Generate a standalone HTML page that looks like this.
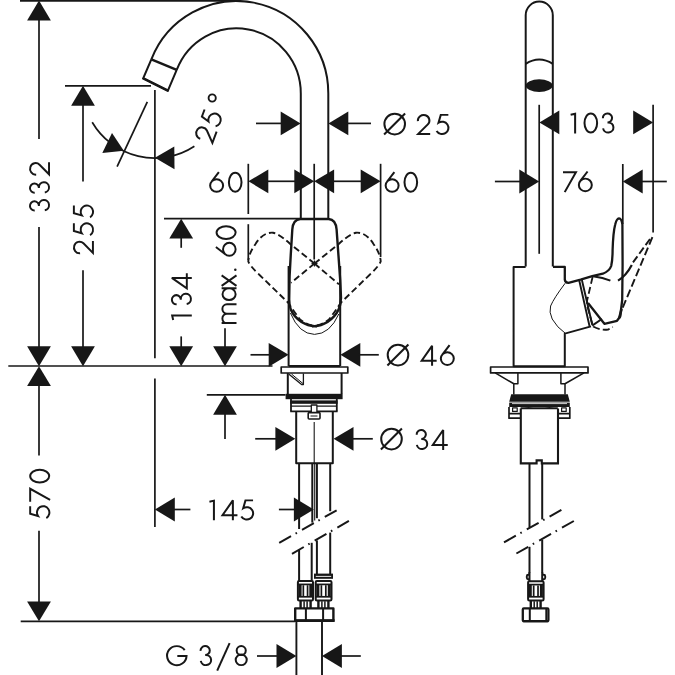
<!DOCTYPE html>
<html><head><meta charset="utf-8"><title>Dimension drawing</title>
<style>
html,body{margin:0;padding:0;background:#fff;font-family:"Liberation Sans",sans-serif;}
svg{display:block}
</style></head>
<body>
<svg width="675" height="675" viewBox="0 0 675 675" fill="none" stroke="#171717" stroke-linecap="butt" stroke-linejoin="round">
<rect x="0" y="0" width="675" height="675" fill="#fff" stroke="none"/>
<path d="M20,0.9 L238,0.9" stroke-width="1.8" />
<polygon points="39.0,0.6 27.1,20.5 50.9,20.5" fill="#171717" stroke="none"/>
<path d="M39.0,19 L39.0,139.0" stroke-width="1.7" />
<path d="M39.0,227 L39.0,348" stroke-width="1.7" />
<polygon points="39.0,366.2 27.1,346.3 50.9,346.3" fill="#171717" stroke="none"/>
<path d="M6,27 A21.5,21.5 0 1 1 27.5,47.2 L31,47.2 A24.3,24.3 0 1 1 7,75.5" transform="translate(49.9,211.8) rotate(-90) scale(0.214,0.208) translate(0,-100)" stroke-width="9.4" stroke-linejoin="miter" stroke-miterlimit="3"/>
<path d="M6,27 A21.5,21.5 0 1 1 27.5,47.2 L31,47.2 A24.3,24.3 0 1 1 7,75.5" transform="translate(49.9,194.0) rotate(-90) scale(0.214,0.208) translate(0,-100)" stroke-width="9.4" stroke-linejoin="miter" stroke-miterlimit="3"/>
<path d="M5.5,34 A27,27 0 1 1 52,50.2 L7,95.8 H63" transform="translate(49.9,175.8) rotate(-90) scale(0.214,0.208) translate(0,-100)" stroke-width="9.4" stroke-linejoin="miter" stroke-miterlimit="3"/>
<polygon points="39.0,366.2 27.1,386.1 50.9,386.1" fill="#171717" stroke="none"/>
<path d="M39.0,384 L39.0,455.6" stroke-width="1.7" />
<path d="M39.0,530.7 L39.0,603" stroke-width="1.7" />
<polygon points="39.0,621.3 27.1,601.4 50.9,601.4" fill="#171717" stroke="none"/>
<path d="M61,4.2 H25.5 L15,42 A29.8,29.8 0 1 1 6,82" transform="translate(50.1,519.3) rotate(-90) scale(0.214,0.208) translate(0,-100)" stroke-width="9.4" stroke-linejoin="miter" stroke-miterlimit="3"/>
<path d="M0,4.2 H60.5 L8,100" transform="translate(50.1,501.7) rotate(-90) scale(0.214,0.208) translate(0,-100)" stroke-width="9.4" stroke-linejoin="miter" stroke-miterlimit="3"/>
<path d="M4.2,50 a29.5,45.8 0 1 0 59,0 a29.5,45.8 0 1 0 -59,0 Z" transform="translate(50.1,483.3) rotate(-90) scale(0.214,0.208) translate(0,-100)" stroke-width="9.4" stroke-linejoin="miter" stroke-miterlimit="3"/>
<path d="M8.3,366.0 L272.5,366.0" stroke-width="1.7" />
<path d="M20.7,621.3 L295,621.3" stroke-width="1.7" />
<path d="M65,85.8 L151,85.8" stroke-width="1.7" />
<polygon points="83.0,85.8 71.1,105.7 94.9,105.7" fill="#171717" stroke="none"/>
<path d="M83,104 L83,181.4" stroke-width="1.7" />
<path d="M83,270.3 L83,348" stroke-width="1.7" />
<polygon points="83.0,366.2 71.1,346.3 94.9,346.3" fill="#171717" stroke="none"/>
<path d="M5.5,34 A27,27 0 1 1 52,50.2 L7,95.8 H63" transform="translate(93.8,254.4) rotate(-90) scale(0.214,0.208) translate(0,-100)" stroke-width="9.4" stroke-linejoin="miter" stroke-miterlimit="3"/>
<path d="M61,4.2 H25.5 L15,42 A29.8,29.8 0 1 1 6,82" transform="translate(93.8,236.4) rotate(-90) scale(0.214,0.208) translate(0,-100)" stroke-width="9.4" stroke-linejoin="miter" stroke-miterlimit="3"/>
<path d="M61,4.2 H25.5 L15,42 A29.8,29.8 0 1 1 6,82" transform="translate(93.8,218.6) rotate(-90) scale(0.214,0.208) translate(0,-100)" stroke-width="9.4" stroke-linejoin="miter" stroke-miterlimit="3"/>
<path d="M154.9,90 L154.9,358.3" stroke-width="1.7" />
<path d="M154.9,378.4 L154.9,527" stroke-width="1.7" />
<path d="M164,218.7 L300.5,218.7" stroke-width="1.7" />
<polygon points="181.2,218.7 169.3,238.6 193.1,238.6" fill="#171717" stroke="none"/>
<path d="M181.2,237 L181.2,247.8" stroke-width="1.7" />
<path d="M181.2,336.4 L181.2,348" stroke-width="1.7" />
<polygon points="181.2,366.2 169.3,346.3 193.1,346.3" fill="#171717" stroke="none"/>
<path d="M2,10.5 L23,5.5 V100" transform="translate(191.8,320.5) rotate(-90) scale(0.214,0.208) translate(0,-100)" stroke-width="9.4" stroke-linejoin="miter" stroke-miterlimit="3"/>
<path d="M6,27 A21.5,21.5 0 1 1 27.5,47.2 L31,47.2 A24.3,24.3 0 1 1 7,75.5" transform="translate(191.8,305.6) rotate(-90) scale(0.214,0.208) translate(0,-100)" stroke-width="9.4" stroke-linejoin="miter" stroke-miterlimit="3"/>
<path d="M53.6,100 V4 L5,76 H75" transform="translate(191.8,289.4) rotate(-90) scale(0.214,0.208) translate(0,-100)" stroke-width="9.4" stroke-linejoin="miter" stroke-miterlimit="3"/>
<path d="M225,328.2 L225,348" stroke-width="1.7" />
<polygon points="225.0,366.2 213.1,346.3 236.9,346.3" fill="#171717" stroke="none"/>
<path d="M4.2,100 V28.5 M4.2,54 A21.9,21.9 0 0 1 48,54 V100 M48,54 A21.9,21.9 0 0 1 91.8,54 V100" transform="translate(236.5,324.0) rotate(-90) scale(0.214,0.208) translate(0,-100)" stroke-width="9.4" stroke-linejoin="miter" stroke-miterlimit="3"/>
<path d="M59.2,28.5 V100 M4.2,64.3 a27.5,31.5 0 1 0 55,0 a27.5,31.5 0 1 0 -55,0 Z" transform="translate(236.5,301.0) rotate(-90) scale(0.214,0.208) translate(0,-100)" stroke-width="9.4" stroke-linejoin="miter" stroke-miterlimit="3"/>
<path d="M3,28.5 L52,100 M52,28.5 L3,100" transform="translate(236.5,286.5) rotate(-90) scale(0.214,0.208) translate(0,-100)" stroke-width="9.4" stroke-linejoin="miter" stroke-miterlimit="3"/>
<path d="M44.7,1 L10,47.3 M3.9,65.5 a30.3,30.3 0 1 0 60.6,0 a30.3,30.3 0 1 0 -60.6,0 Z" transform="translate(236.5,256.6) rotate(-90) scale(0.214,0.208) translate(0,-100)" stroke-width="9.4" stroke-linejoin="miter" stroke-miterlimit="3"/>
<path d="M4.2,50 a29.5,45.8 0 1 0 59,0 a29.5,45.8 0 1 0 -59,0 Z" transform="translate(236.5,239.8) rotate(-90) scale(0.214,0.208) translate(0,-100)" stroke-width="9.4" stroke-linejoin="miter" stroke-miterlimit="3"/>
<circle cx="235.3" cy="269.8" r="1.25" fill="#171717" stroke="none"/>
<path d="M206.8,394.8 L285.5,394.8" stroke-width="1.7" />
<polygon points="225.0,394.8 213.1,414.7 236.9,414.7" fill="#171717" stroke="none"/>
<path d="M225,413 L225,438.9" stroke-width="1.7" />
<polygon points="154.9,509.5 174.8,497.6 174.8,521.4" fill="#171717" stroke="none"/>
<path d="M173,509.5 L190.4,509.5" stroke-width="1.7" />
<path d="M278.9,509.5 L296,509.5" stroke-width="1.7" />
<polygon points="313.8,509.5 293.9,497.6 293.9,521.4" fill="#171717" stroke="none"/>
<path d="M2,10.5 L23,5.5 V100" transform="translate(209.0,520.3) scale(0.214,0.208) translate(0,-100)" stroke-width="9.4" stroke-linejoin="miter" stroke-miterlimit="3"/>
<path d="M53.6,100 V4 L5,76 H75" transform="translate(221.4,520.3) scale(0.214,0.208) translate(0,-100)" stroke-width="9.4" stroke-linejoin="miter" stroke-miterlimit="3"/>
<path d="M61,4.2 H25.5 L15,42 A29.8,29.8 0 1 1 6,82" transform="translate(240.0,520.3) scale(0.214,0.208) translate(0,-100)" stroke-width="9.4" stroke-linejoin="miter" stroke-miterlimit="3"/>
<path d="M256,123.4 L283,123.4" stroke-width="1.7" />
<polygon points="300.6,123.4 280.7,111.5 280.7,135.3" fill="#171717" stroke="none"/>
<polygon points="328.4,123.4 348.3,111.5 348.3,135.3" fill="#171717" stroke="none"/>
<path d="M346,123.4 L371,123.4" stroke-width="1.7" />
<circle cx="394.7" cy="124.1" r="10.3" stroke-width="2.0"/>
<path d="M384.09999999999997,134.5 L405.09999999999997,113.5" stroke-width="2.0" />
<path d="M5.5,34 A27,27 0 1 1 52,50.2 L7,95.8 H63" transform="translate(416.7,134.8) scale(0.214,0.208) translate(0,-100)" stroke-width="9.4" stroke-linejoin="miter" stroke-miterlimit="3"/>
<path d="M61,4.2 H25.5 L15,42 A29.8,29.8 0 1 1 6,82" transform="translate(435.3,134.8) scale(0.214,0.208) translate(0,-100)" stroke-width="9.4" stroke-linejoin="miter" stroke-miterlimit="3"/>
<path d="M248.3,163.8 L248.3,214" stroke-width="1.7" />
<path d="M248.3,224.2 L248.3,260" stroke-width="1.7" />
<path d="M314.2,163.8 L314.2,259.5" stroke-width="1.7" />
<path d="M380.6,163.8 L380.6,257" stroke-width="1.7" />
<polygon points="248.4,181.3 268.3,169.4 268.3,193.2" fill="#171717" stroke="none"/>
<path d="M266,181.3 L296,181.3" stroke-width="1.7" />
<polygon points="314.2,181.3 294.3,169.4 294.3,193.2" fill="#171717" stroke="none"/>
<polygon points="314.2,181.3 334.1,169.4 334.1,193.2" fill="#171717" stroke="none"/>
<path d="M332,181.3 L362,181.3" stroke-width="1.7" />
<polygon points="380.6,181.3 360.7,169.4 360.7,193.2" fill="#171717" stroke="none"/>
<path d="M44.7,1 L10,47.3 M3.9,65.5 a30.3,30.3 0 1 0 60.6,0 a30.3,30.3 0 1 0 -60.6,0 Z" transform="translate(209.3,192.7) scale(0.214,0.208) translate(0,-100)" stroke-width="9.4" stroke-linejoin="miter" stroke-miterlimit="3"/>
<path d="M4.2,50 a29.5,45.8 0 1 0 59,0 a29.5,45.8 0 1 0 -59,0 Z" transform="translate(228.0,192.7) scale(0.214,0.208) translate(0,-100)" stroke-width="9.4" stroke-linejoin="miter" stroke-miterlimit="3"/>
<path d="M44.7,1 L10,47.3 M3.9,65.5 a30.3,30.3 0 1 0 60.6,0 a30.3,30.3 0 1 0 -60.6,0 Z" transform="translate(384.8,192.7) scale(0.214,0.208) translate(0,-100)" stroke-width="9.4" stroke-linejoin="miter" stroke-miterlimit="3"/>
<path d="M4.2,50 a29.5,45.8 0 1 0 59,0 a29.5,45.8 0 1 0 -59,0 Z" transform="translate(403.6,192.7) scale(0.214,0.208) translate(0,-100)" stroke-width="9.4" stroke-linejoin="miter" stroke-miterlimit="3"/>
<path d="M250.5,354.8 L271,354.8" stroke-width="1.7" />
<polygon points="288.6,354.8 268.7,342.9 268.7,366.7" fill="#171717" stroke="none"/>
<polygon points="340.4,354.8 360.3,342.9 360.3,366.7" fill="#171717" stroke="none"/>
<path d="M358,354.8 L378.8,354.8" stroke-width="1.7" />
<circle cx="398" cy="355.1" r="10.3" stroke-width="2.0"/>
<path d="M387.4,365.5 L408.4,344.5" stroke-width="2.0" />
<path d="M53.6,100 V4 L5,76 H75" transform="translate(420.6,365.8) scale(0.214,0.208) translate(0,-100)" stroke-width="9.4" stroke-linejoin="miter" stroke-miterlimit="3"/>
<path d="M44.7,1 L10,47.3 M3.9,65.5 a30.3,30.3 0 1 0 60.6,0 a30.3,30.3 0 1 0 -60.6,0 Z" transform="translate(440.0,365.8) scale(0.214,0.208) translate(0,-100)" stroke-width="9.4" stroke-linejoin="miter" stroke-miterlimit="3"/>
<path d="M255.2,438.8 L277,438.8" stroke-width="1.7" />
<polygon points="295.3,438.8 275.4,426.9 275.4,450.7" fill="#171717" stroke="none"/>
<polygon points="333.6,438.8 353.5,426.9 353.5,450.7" fill="#171717" stroke="none"/>
<path d="M351,438.8 L372.8,438.8" stroke-width="1.7" />
<circle cx="391.5" cy="439.1" r="10.3" stroke-width="2.0"/>
<path d="M380.9,449.5 L401.9,428.5" stroke-width="2.0" />
<path d="M6,27 A21.5,21.5 0 1 1 27.5,47.2 L31,47.2 A24.3,24.3 0 1 1 7,75.5" transform="translate(415.4,449.9) scale(0.214,0.208) translate(0,-100)" stroke-width="9.4" stroke-linejoin="miter" stroke-miterlimit="3"/>
<path d="M53.6,100 V4 L5,76 H75" transform="translate(431.7,449.9) scale(0.214,0.208) translate(0,-100)" stroke-width="9.4" stroke-linejoin="miter" stroke-miterlimit="3"/>
<path d="M257,656 L279,656" stroke-width="1.7" />
<polygon points="296.4,656.0 276.5,644.1 276.5,667.9" fill="#171717" stroke="none"/>
<polygon points="322.0,656.0 341.9,644.1 341.9,667.9" fill="#171717" stroke="none"/>
<path d="M340,656 L360.8,656" stroke-width="1.7" />
<path d="M296.4,621 L296.4,675" stroke-width="1.9" />
<path d="M322,621 L322,675" stroke-width="1.9" />
<path d="M86.5,23.5 A45.5,45.8 0 1 0 95,52 H52" transform="translate(166.2,666.0) scale(0.214,0.208) translate(0,-100)" stroke-width="9.4" stroke-linejoin="miter" stroke-miterlimit="3"/>
<path d="M6,27 A21.5,21.5 0 1 1 27.5,47.2 L31,47.2 A24.3,24.3 0 1 1 7,75.5" transform="translate(199.3,666.0) scale(0.214,0.208) translate(0,-100)" stroke-width="9.4" stroke-linejoin="miter" stroke-miterlimit="3"/>
<path d="M8.7,26 a21.3,21.8 0 1 0 42.6,0 a21.3,21.8 0 1 0 -42.6,0 Z M4.2,70.3 a25.8,25.5 0 1 0 51.6,0 a25.8,25.5 0 1 0 -51.6,0 Z" transform="translate(234.8,666.0) scale(0.214,0.208) translate(0,-100)" stroke-width="9.4" stroke-linejoin="miter" stroke-miterlimit="3"/>
<path d="M217.2,670.6 L229.6,643.2" stroke-width="2.0" />
<path d="M92.2,122.2 A72.4,72.4 0 0 0 194.4,146.2" stroke-width="1.7"/>
<path d="M147.3,101.8 L117.1,166.7" stroke-width="1.7" />
<polygon points="123.8,150.8 112.0,132.9 102.3,153.0" fill="#171717" stroke="none"/>
<polygon points="154.9,157.8 174.3,146.4 174.5,169.2" fill="#171717" stroke="none"/>
<path d="M5.5,34 A27,27 0 1 1 52,50.2 L7,95.8 H63" transform="translate(212.7,144.6) rotate(-69.5) translate(0,0) scale(0.214,0.208) translate(0,-100)" stroke-width="9.4" stroke-linejoin="miter" stroke-miterlimit="3"/>
<path d="M61,4.2 H25.5 L15,42 A29.8,29.8 0 1 1 6,82" transform="translate(212.7,144.6) rotate(-69.5) translate(17.0,0) scale(0.214,0.208) translate(0,-100)" stroke-width="9.4" stroke-linejoin="miter" stroke-miterlimit="3"/>
<circle cx="212.2" cy="98.0" r="3.6" stroke-width="1.9"/>
<path d="M151.34,59.38 A91.7,92.4 0 0 1 328.30,93.4 V219" stroke-width="2.0" />
<path d="M176.70,69.97 A64.2,65.1 0 0 1 300.80,93.4 V219" stroke-width="2.0" />
<path d="M151.34,59.38 L143.2,78.3 L167.9,90.6 L176.70,69.97" stroke-width="2.0" stroke-linejoin="miter"/>
<path d="M151.34,59.38 L176.7,69.97" stroke-width="2.4" />
<path d="M142.8,78.1 L168.3,90.8" stroke-width="2.5" />
<path d="M288.6,266 L288.6,366" stroke-width="2.0" />
<path d="M340.2,266 L340.2,366" stroke-width="2.0" />
<path d="M288.6,366 L340.2,366" stroke-width="2.0" />
<path d="M300.3,219 H328.6 Q335.8,219.6 336.6,229.5 L338.5,256 L340.2,280 L341,298 Q340.8,305 338.6,309.5 Q335.5,316.5 327.5,322 Q321,326 314.6,326.2 Q308,326 301.5,322 Q293.6,316.5 290.8,309.5 Q289,305 289.2,298 L289.6,276 L290.8,254 L292.3,229.5 Q293,219.6 300.3,219 Z" stroke-width="2.4" />
<path d="M290.4,313 Q299,334 314.5,334.4 Q330,334 338.8,314" stroke-width="1.0" />
<path d="M314.5,263.5 L290,243.8 Q279.5,234 273,232.7 Q263,232 255.5,244 Q248.5,254 248.3,261.5 Q250,266 259.3,274.7 L288.2,302.7 Q295,313 300,319.5 Q306,324.5 317,326.6" stroke-width="1.9" stroke-dasharray="6.5 3.4"/>
<path d="M314.5,263.5 L339,284.4" stroke-width="1.9" stroke-dasharray="6.5 3.4"/>
<path d="M314.5,263.5 L339,243.8 Q349.5,234 356,232.7 Q366,232 373.5,244 Q380.5,254 380.7,261.5 Q379,266 369.7,274.7 L340.8,302.7 Q334,313 329,319.5 Q323,324.5 312,326.6" stroke-width="1.9" stroke-dasharray="6.5 3.4"/>
<path d="M314.5,263.5 L291,282.8" stroke-width="1.9" stroke-dasharray="6.5 3.4"/>
<path d="M311.5,263.5 L317.5,263.5" stroke-width="1.2" />
<path d="M314.5,260.5 L314.5,266.5" stroke-width="1.2" />
<rect x="281.2" y="367" width="66.6" height="6" stroke-width="1.7"/>
<path d="M287.8,373 L287.8,394" stroke-width="2.0" />
<path d="M341.6,373 L341.6,394" stroke-width="2.0" />
<path d="M289,374.2 L301.6,384.6 L303.4,384.6 V373.4" stroke-width="1.3" />
<path d="M291.5,374 L303,383.6" stroke-width="1.0" />
<rect x="285.6" y="393.8" width="57" height="5.4" fill="#171717" stroke="none"/>
<path d="M291,399 L291,411.3" stroke-width="1.8" />
<path d="M336.8,399 L336.8,411.3" stroke-width="1.8" />
<rect x="290.2" y="400.4" width="47.4" height="3.4" fill="#171717" stroke="none"/>
<path d="M291,406.1 L336.8,406.1" stroke-width="1.1" />
<path d="M290.2,411.3 L337.6,411.3" stroke-width="1.8" />
<path d="M296.2,411.2 V463.3 H332.8 V411.2" stroke-width="2.0" />
<rect x="311.3" y="405" width="5.6" height="8" fill="#fff" stroke-width="1.3"/>
<rect x="308.2" y="412.6" width="11.8" height="6.4" fill="#fff" stroke-width="1.6" rx="1"/>
<path d="M310.5,416 L317.5,416" stroke-width="1.0" />
<path d="M314.2,422 L314.2,463" stroke-width="1.1" />
<path d="M299.1,463.3 L299.1,529" stroke-width="2.0" />
<path d="M312.3,463.3 L312.3,522.6" stroke-width="2.0" />
<path d="M314.7,463.3 L314.7,520.5" stroke-width="1.1" />
<path d="M316.9,463.3 L316.9,518.2" stroke-width="2.0" />
<path d="M330.2,463.3 L330.2,511.2" stroke-width="2.0" />
<path d="M299.1,549.6 L299.1,581" stroke-width="2.0" />
<path d="M311.7,542.8 L311.7,581" stroke-width="2.0" />
<path d="M316.9,540.4 L316.9,574" stroke-width="2.0" />
<path d="M330.2,532.6 L330.2,574" stroke-width="2.0" />
<path d="M279.2,542.8 L336.8,510.2" stroke-width="2.0" stroke-dasharray="13.6 5.2 1.6 5.8"/>
<path d="M292.0,553.8 L348.9,520.9" stroke-width="2.0" stroke-dasharray="13.6 5.2 1.6 5.8"/>
<rect x="314.0" y="573.6" width="19.0" height="5.2" fill="#171717" stroke="none"/>
<path d="M315.8,576.4 L331.2,576.4" stroke-width="0.9" stroke="#fff"/>
<rect x="297.9" y="581" width="15.100000000000023" height="19.399999999999977" stroke-width="2.0" rx="1.2"/>
<path d="M297.9,584.4 L313.0,584.4" stroke-width="1.7" />
<path d="M297.9,596.8 L313.0,596.8" stroke-width="1.7" />
<path d="M300.09999999999997,584.4 L300.09999999999997,596.8" stroke-width="3.0" />
<path d="M310.8,584.4 L310.8,596.8" stroke-width="3.0" />
<path d="M303.336,585.2 L303.336,596.1999999999999" stroke-width="1.7" />
<path d="M307.56399999999996,585.2 L307.56399999999996,596.1999999999999" stroke-width="1.7" />
<rect x="315.7" y="581" width="15.800000000000011" height="19.399999999999977" stroke-width="2.0" rx="1.2"/>
<path d="M315.7,584.4 L331.5,584.4" stroke-width="1.7" />
<path d="M315.7,596.8 L331.5,596.8" stroke-width="1.7" />
<path d="M317.9,584.4 L317.9,596.8" stroke-width="3.0" />
<path d="M329.3,584.4 L329.3,596.8" stroke-width="3.0" />
<path d="M321.388,585.2 L321.388,596.1999999999999" stroke-width="1.7" />
<path d="M325.812,585.2 L325.812,596.1999999999999" stroke-width="1.7" />
<path d="M300.6,600.4 L300.6,608.4" stroke-width="2.4" />
<path d="M310.6,600.4 L310.6,608.4" stroke-width="2.4" />
<path d="M304.1,601.2 L304.1,608" stroke-width="1.5" />
<path d="M307.1,601.2 L307.1,608" stroke-width="1.5" />
<path d="M318.4,600.4 L318.4,608.4" stroke-width="2.4" />
<path d="M328.4,600.4 L328.4,608.4" stroke-width="2.4" />
<path d="M321.9,601.2 L321.9,608" stroke-width="1.5" />
<path d="M324.9,601.2 L324.9,608" stroke-width="1.5" />
<rect x="295.2" y="608.4" width="38.2" height="12.4" stroke-width="2.4"/>
<path d="M294,620.6 L334.6,620.6" stroke-width="2.8" />
<path d="M305.9,608.6 L305.9,620.8" stroke-width="2.0" />
<path d="M323.1,608.6 L323.1,620.8" stroke-width="2.0" />
<path d="M525.7,266.6 V15.2 A13.55,13.6 0 0 1 552.8,15.2 V266.6" stroke-width="2.0" />
<path d="M525.7,63.9 Q539.2,55.2 552.8,63.9" stroke-width="2.0" />
<ellipse cx="539.2" cy="85.6" rx="13.5" ry="6.3" fill="#171717" stroke="none"/>
<path d="M539.2,104.8 L539.2,253.8" stroke-width="1.7" />
<path d="M653.1,104.8 L653.1,232.6" stroke-width="1.7" />
<polygon points="539.4,122.4 559.3,110.5 559.3,134.3" fill="#171717" stroke="none"/>
<polygon points="653.1,122.4 633.2,110.5 633.2,134.3" fill="#171717" stroke="none"/>
<path d="M2,10.5 L23,5.5 V100" transform="translate(570.2,133.4) scale(0.214,0.208) translate(0,-100)" stroke-width="9.4" stroke-linejoin="miter" stroke-miterlimit="3"/>
<path d="M4.2,50 a29.5,45.8 0 1 0 59,0 a29.5,45.8 0 1 0 -59,0 Z" transform="translate(583.6,133.4) scale(0.214,0.208) translate(0,-100)" stroke-width="9.4" stroke-linejoin="miter" stroke-miterlimit="3"/>
<path d="M6,27 A21.5,21.5 0 1 1 27.5,47.2 L31,47.2 A24.3,24.3 0 1 1 7,75.5" transform="translate(601.6,133.4) scale(0.214,0.208) translate(0,-100)" stroke-width="9.4" stroke-linejoin="miter" stroke-miterlimit="3"/>
<path d="M622.8,164 L622.8,224" stroke-width="1.7" />
<path d="M494.9,181.5 L522,181.5" stroke-width="1.7" />
<polygon points="539.2,181.5 519.3,169.6 519.3,193.4" fill="#171717" stroke="none"/>
<polygon points="622.8,181.5 642.7,169.6 642.7,193.4" fill="#171717" stroke="none"/>
<path d="M641,181.5 L666.8,181.5" stroke-width="1.7" />
<path d="M0,4.2 H60.5 L8,100" transform="translate(563.0,192.1) scale(0.214,0.208) translate(0,-100)" stroke-width="9.4" stroke-linejoin="miter" stroke-miterlimit="3"/>
<path d="M44.7,1 L10,47.3 M3.9,65.5 a30.3,30.3 0 1 0 60.6,0 a30.3,30.3 0 1 0 -60.6,0 Z" transform="translate(578.0,192.1) scale(0.214,0.208) translate(0,-100)" stroke-width="9.4" stroke-linejoin="miter" stroke-miterlimit="3"/>
<path d="M553,266.9 H564.8 V279.6 Q565,282.6 568.5,282.8 L580.6,279.6 L592.2,276.2 L602.8,273.7 Q609.5,271 611.2,266 Q612.6,260 612.6,250 Q613.2,232 615.2,224.5 Q616.6,218.6 619,218.4 Q621.6,218.6 622.4,224.5 L622.6,265 L622.2,300 L620.2,316.5 L617,320.8 L604.4,323.8 L588,303" stroke-width="2.3" stroke-linejoin="round"/>
<path d="M525.6,266.9 H513.6 V366.2 H564.8 V333.6 L591,326.4" stroke-width="2.0" />
<path d="M565.2,283.2 Q554,298 550.6,306 Q548.8,312 552.2,319 Q557,327.5 565.2,333.2" stroke-width="1.0" />
<path d="M579.3,280.8 L589.5,326 M581.9,280 L592.3,325" stroke-width="1.9" />
<path d="M601.8,319 L592.2,325.6" stroke-width="2.0" />
<path d="M593,276.2 Q603,277.4 610.4,280.6" stroke-width="2.0" />
<path d="M592.6,277 L587.2,300 Q586.4,304.5 588,308.5 L593,326.4 Q600,330.5 608,329.6 L612.8,327" stroke-width="1.8" stroke-dasharray="7 3.2"/>
<path d="M618,280.6 Q626,276 631.8,265" stroke-width="2.2" />
<path d="M633,262.4 L651.6,236.8" stroke-width="1.9" stroke-dasharray="7.5 3.2"/>
<path d="M652.4,237.2 L627,297.5 L621.5,310.5" stroke-width="1.9" stroke-dasharray="8 3.4"/>
<path d="M621.6,309 L619.2,318.2" stroke-width="2.6" />
<rect x="490.6" y="367" width="97.4" height="5.9" stroke-width="1.7"/>
<path d="M495.2,372.9 L513.8,383.8 M584,372.9 L565,383.8" stroke-width="1.6" />
<path d="M517.9,372.9 V383.8 H513.8 V394.4 M560.9,372.9 V383.8 H565 V394.4" stroke-width="1.5" />
<path d="M511.2,394.2 H567.8 L569.8,401.8 H509.2 Z" fill="#171717" stroke="none"/>
<rect x="509.2" y="402.6" width="60.6" height="4.4" fill="#171717" stroke="none"/>
<path d="M512,403.6 L567,403.6" stroke-width="0.8" stroke="#fff"/>
<path d="M509,407 V418.2 H520.4 M569.8,407 V418.2 H558 M509,413.6 H520 M570,413.6 H558.4" stroke-width="1.7" />
<rect x="512.6" y="407.8" width="4.6" height="3.6" stroke-width="1.2"/>
<rect x="561.6" y="407.8" width="4.6" height="3.6" stroke-width="1.2"/>
<path d="M520.6,408.2 H557.8" stroke-width="2.0" />
<path d="M524,408.5 L539,405.2 L554,408.5" stroke-width="0.9" />
<path d="M520.8,408.5 V463.4 H536.6 V460.4 H541.8 V463.4 H558 V408.5" stroke-width="2.1" stroke-linejoin="miter"/>
<path d="M529.5,463.4 L529.5,527.4" stroke-width="2.0" />
<path d="M542.2,463.4 L542.2,519.4" stroke-width="2.0" />
<path d="M529.5,546.8 L529.5,575" stroke-width="2.0" />
<path d="M542.2,539.8 L542.2,575" stroke-width="2.0" />
<path d="M504,542.4 L561.8,509.6" stroke-width="2.0" stroke-dasharray="13.6 5.2 1.6 5.8"/>
<path d="M516.4,553.5 L574.2,520.8" stroke-width="2.0" stroke-dasharray="13.6 5.2 1.6 5.8"/>
<rect x="526.8" y="574.8" width="18.4" height="4.4" stroke-width="1.9" rx="1.5"/>
<rect x="529.4" y="572.5" width="12.9" height="8.5" fill="#fff" stroke="none"/>
<path d="M529.5,572 L529.5,581" stroke-width="2.0" />
<path d="M542.2,572 L542.2,581" stroke-width="2.0" />
<rect x="528.1" y="581.2" width="15.5" height="19.199999999999932" stroke-width="2.0" rx="1.2"/>
<path d="M528.1,584.6 L543.6,584.6" stroke-width="1.7" />
<path d="M528.1,596.8 L543.6,596.8" stroke-width="1.7" />
<path d="M530.3000000000001,584.6 L530.3000000000001,596.8" stroke-width="3.0" />
<path d="M541.4,584.6 L541.4,596.8" stroke-width="3.0" />
<path d="M533.6800000000001,585.4000000000001 L533.6800000000001,596.1999999999999" stroke-width="1.7" />
<path d="M538.02,585.4000000000001 L538.02,596.1999999999999" stroke-width="1.7" />
<path d="M530.8,600.4 L530.8,608.4" stroke-width="2.4" />
<path d="M540.6,600.4 L540.6,608.4" stroke-width="2.4" />
<path d="M534.2,601.2 L534.2,608" stroke-width="1.5" />
<path d="M537.2,601.2 L537.2,608" stroke-width="1.5" />
<rect x="522.8" y="608.4" width="25.6" height="12.8" stroke-width="2.3" rx="1"/>
<path d="M529.8,608.6 L529.8,621" stroke-width="2.0" />
<path d="M546.2,608.6 L546.2,621" stroke-width="1.8" />
<path d="M522.8,621.2 L548.4,621.2" stroke-width="2.2" />
</svg>
</body></html>
